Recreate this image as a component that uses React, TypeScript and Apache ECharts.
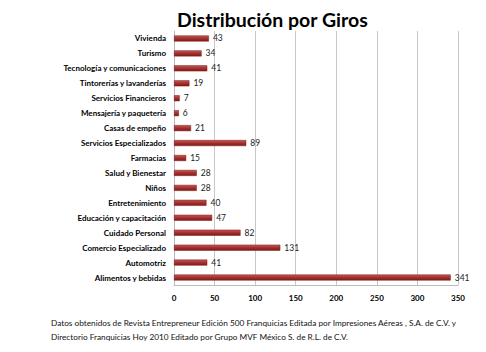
import React, { useEffect, useRef } from "react";
import * as echarts from "echarts";

const categories = [
  "Alimentos y bebidas",
  "Automotriz",
  "Comercio Especializado",
  "Cuidado Personal",
  "Educación y capacitación",
  "Entretenimiento",
  "Niños",
  "Salud y Bienestar",
  "Farmacias",
  "Servicios Especializados",
  "Casas de empeño",
  "Mensajería y paquetería",
  "Servicios Financieros",
  "Tintorerías y lavanderías",
  "Tecnología y comunicaciones",
  "Turismo",
  "Vivienda",
];
const values = [341, 41, 131, 82, 47, 40, 28, 28, 15, 89, 21, 6, 7, 19, 41, 34, 43];
const xTicks = [0, 50, 100, 150, 200, 250, 300, 350];

export default function App() {
  const ref = useRef<HTMLDivElement>(null);
  useEffect(() => {
    if (!ref.current) return;
    const chart = echarts.init(ref.current, undefined, { renderer: "svg" });
    chart.setOption({
      animation: false,
      backgroundColor: "#ffffff",
      title: {
        text: "Distribución por Giros",
        left: 172,
        top: 4,
        textStyle: { fontFamily: "Lato", fontWeight: "bold", fontSize: 19.5, color: "#000" },
      },
      grid: { left: 174, right: 28, top: 31, bottom: 67 },
      xAxis: {
        type: "value",
        min: xTicks[0],
        max: xTicks[xTicks.length - 1],
        interval: 50,
        axisLine: { show: true, lineStyle: { color: "#bbbbbb" } },
        axisTick: { show: false },
        axisLabel: { fontFamily: "Lato", fontWeight: "bold", fontSize: 8, color: "#000", margin: 9 },
        splitLine: { show: true, lineStyle: { color: "#c8c8c8", width: 1 } },
      },
      yAxis: {
        type: "category",
        data: categories,
        axisLine: { show: true, lineStyle: { color: "#bbbbbb" } },
        axisTick: { show: false },
        axisLabel: { fontFamily: "Lato", fontWeight: "bold", fontSize: 8, color: "#000", margin: 8 },
      },
      series: [
        {
          type: "bar",
          data: values,
          barWidth: 6,
          itemStyle: {
            color: new echarts.graphic.LinearGradient(0, 0, 0, 1, [
              { offset: 0, color: "#c45a57" },
              { offset: 0.5, color: "#a52f2d" },
              { offset: 1, color: "#7e1c1b" },
            ]),
            borderColor: "#7a1a1a",
            borderWidth: 0.5,
          },
          label: {
            show: true,
            position: "right",
            distance: 4,
            fontFamily: "Lato",
            fontSize: 8.5,
            color: "#222",
          },
        },
      ],
      graphic: [
        {
          type: "text",
          left: 51,
          top: 316,
          style: {
            text:
              "Datos obtenidos de Revista Entrepreneur Edición 500 Franquicias Editada por Impresiones Aéreas , S.A. de C.V. y\nDirectorio Franquicias Hoy 2010 Editado por Grupo MVF México S. de R.L. de C.V.",
            fontFamily: "Lato",
            fontSize: 8.25,
            lineHeight: 14,
            fill: "#111",
          },
        },
      ],
    });
    return () => chart.dispose();
  }, []);
  return (
    <div
      ref={ref}
      style={{ position: "absolute", left: 0, top: 0, width: 486, height: 352 }}
    />
  );
}
